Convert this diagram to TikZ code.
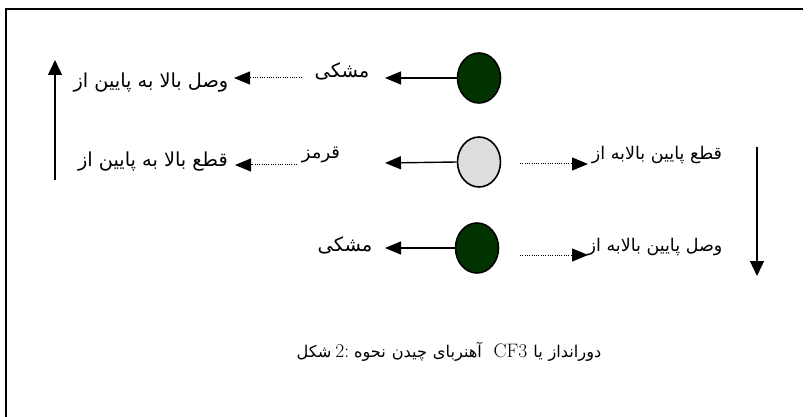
\documentclass[tikz,border=0pt]{standalone}
\usepackage{fontspec}
\usetikzlibrary{arrows.meta,shapes.geometric}
\newfontfamily\arabicfont[Script=Arabic]{DejaVu Sans}
\definecolor{dkgreen}{RGB}{0,51,0}
\definecolor{ltgray}{RGB}{221,221,221}
\newcommand{\capfa}[1]{\mbox{\arabicfont\fontsize{16.2}{20}\selectfont #1}}
\tikzset{
  lamp/.style={ellipse,draw=black,line width=1.6pt,minimum width=43pt,minimum height=50pt,inner sep=0pt},
  arr/.style={line width=1.4pt,-{Triangle[length=16pt,width=13pt]}},
  darr/.style={line width=1pt,dash pattern=on 1pt off 1.3pt,-{Triangle[length=16pt,width=13pt]}},
  varr/.style={line width=1.4pt,-{Triangle[length=15pt,width=14pt]}},
  llab/.style={font=\arabicfont\fontsize{19.3}{22}\selectfont,inner sep=0pt},
  rlab/.style={font=\arabicfont\fontsize{17.5}{20}\selectfont,inner sep=0pt},
  flab/.style={font=\arabicfont\fontsize{19.5}{22}\selectfont,inner sep=0pt},
  frame/.style={line width=2pt}
}
\begin{document}
\begin{tikzpicture}[x=1pt,y=-1pt]
\useasboundingbox (0,0) rectangle (812,417);
% frame
\coordinate (f1) at (6.2,417);
\coordinate (f2) at (6.2,9.5);
\coordinate (f3) at (803,9.5);
\draw[frame] (f1) -- (f2) -- (f3);
% lamps
\node[lamp,fill=dkgreen] (c1) at (479,78) {};
\node[lamp,fill=ltgray] (c2) at (479,162) {};
\node[lamp,fill=dkgreen] (c3) at (477,248) {};
% colour labels
\node[flab] (m1) at (342,71) {مشکی};
\node[flab,font=\arabicfont\fontsize{18}{21}\selectfont] (m2) at (321,155) {قرمز};
\node[flab] (m3) at (345,245) {مشکی};
% solid arrows
\coordinate (a1) at (385,78);
\coordinate (a2) at (385,163);
\coordinate (a3) at (385,248);
\draw[arr] (c1.west) -- (a1);
\draw[arr] (c2.west) -- (a2);
\draw[arr] (c3.west) -- (a3);
% left dotted arrows and labels
\node[llab] (l1) at (151,83) {\mbox{از} \mbox{پایین} \mbox{به} \mbox{بالا} \mbox{وصل}};
\node[llab] (l2) at (153,162) {\mbox{از} \mbox{پایین} \mbox{به} \mbox{بالا} \mbox{قطع}};
\coordinate (d1s) at (302,78);
\coordinate (d1e) at (234,78);
\coordinate (d2s) at (297,165);
\coordinate (d2e) at (235,165);
\draw[darr] (d1s) -- (d1e);
\draw[darr] (d2s) -- (d2e);
% right dotted arrows and labels
\coordinate (r2s) at (520,164);
\coordinate (r2e) at (588,164);
\coordinate (r3s) at (520,255);
\coordinate (r3e) at (588,255);
\draw[darr] (r2s) -- (r2e);
\draw[darr] (r3s) -- (r3e);
\node[rlab] (l3) at (657,155) {\mbox{از} \mbox{بالابه} \mbox{پایین} \mbox{قطع}};
\node[rlab] (l4) at (655,247) {\mbox{از} \mbox{بالابه} \mbox{پایین} \mbox{وصل}};
% vertical arrows
\coordinate (u1) at (55,180);
\coordinate (u2) at (55,60);
\coordinate (w1) at (757,147);
\coordinate (w2) at (757,276);
\draw[varr] (u1) -- (u2);
\draw[varr] (w1) -- (w2);
% caption
\node[inner sep=0pt,font=\fontsize{19.5}{22}\selectfont] (cap) at (449,352)
  {\capfa{شکل}\hspace{0.2em}2:\hspace{0.25em}\capfa{نحوه} \capfa{چیدن} \capfa{آهنربای}\ \ CF3 \capfa{یا} \capfa{دورانداز}};
\end{tikzpicture}
\end{document}
